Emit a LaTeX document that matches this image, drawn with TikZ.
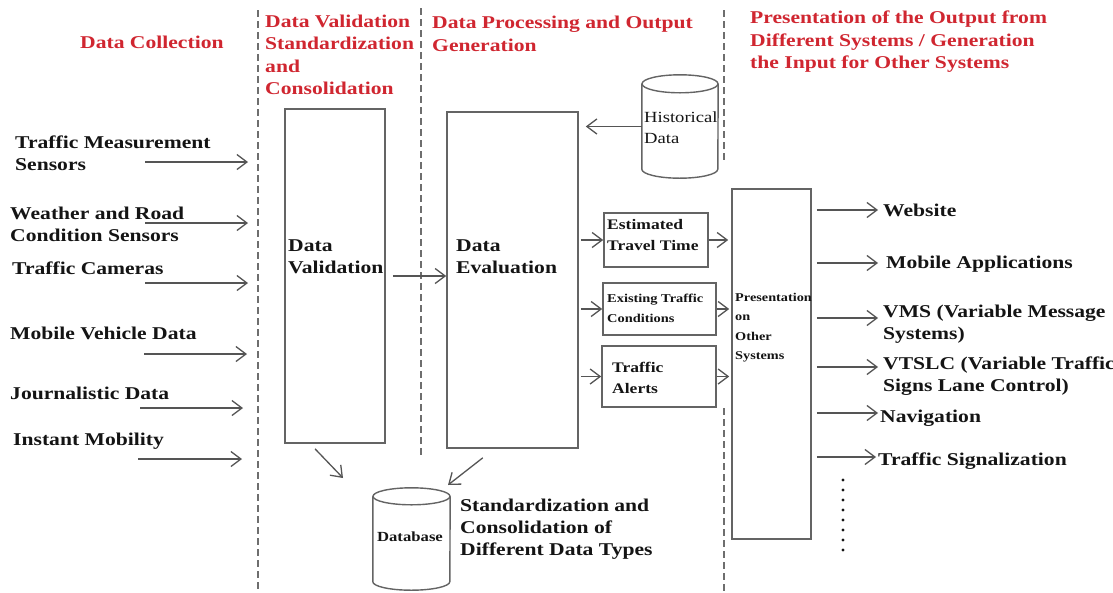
\documentclass[tikz,border=0pt]{standalone}
\usepackage{fontspec}
\setmainfont{Liberation Serif}[FakeStretch=1.2]
\usetikzlibrary{arrows.meta}
\definecolor{hred}{RGB}{208,38,48}
\definecolor{txt}{RGB}{20,20,20}
\definecolor{boxc}{RGB}{100,100,100}
\definecolor{arrc}{RGB}{85,85,85}
\definecolor{dashc}{RGB}{110,110,110}
\begin{document}
\begin{tikzpicture}[x=1pt,y=-1pt,
  lbl/.style={font=\fontsize{18}{22}\selectfont\bfseries, text=txt, align=left, inner sep=0pt, anchor=west},
  hdr/.style={lbl, text=hred, font=\fontsize{18}{22.5}\selectfont\bfseries},
  boxn/.style={draw=boxc, line width=1.6pt, inner sep=0pt, fill=white},
  cyl/.style={draw=boxc, line width=1.4pt},
  arr/.style={draw=arrc, line width=1.3pt, -{Straight Barb[length=10pt,width=15pt]}},
  dline/.style={draw=dashc, line width=1.8pt, dash pattern=on 7pt off 4pt},
]
\useasboundingbox[fill=white] (0,0) rectangle (1113,592);

% dashed separators
\coordinate (a1) at (258,10); \coordinate (a2) at (258,592);
\coordinate (b1) at (421,8);  \coordinate (b2) at (421,456);
\coordinate (c1) at (724,10); \coordinate (c2) at (724,160);
\coordinate (c3) at (724,408); \coordinate (c4) at (724,592);
\draw[dline] (a1) -- (a2);
\draw[dline] (b1) -- (b2);
\draw[dline] (c1) -- (c2);
\draw[dline] (c3) -- (c4);

% headers
\node[hdr] (h1) at (80,42) {Data Collection};
\node[hdr] (h2) at (265,55) {Data Validation\\Standardization\\and\\Consolidation};
\node[hdr] (h3) at (432,34) {Data Processing and Output\\Generation};
\node[hdr] (h4) at (750,42) {Presentation of the Output from\\Different Systems / Generation\\the Input for Other Systems};

% input labels
\node[lbl] (i1) at (15,153) {Traffic Measurement\\Sensors};
\node[lbl] (i2) at (10,224) {Weather and Road\\Condition Sensors};
\node[lbl] (i3) at (12,268) {Traffic Cameras};
\node[lbl] (i4) at (10,333) {Mobile Vehicle Data};
\node[lbl] (i5) at (10,393) {Journalistic Data};
\node[lbl] (i6) at (13,441) {Instant Mobility};

% input arrows
\coordinate (s1) at (145,162); \coordinate (e1) at (248,162);
\coordinate (s2) at (145,223); \coordinate (e2) at (248,223);
\coordinate (s3) at (145,283); \coordinate (e3) at (248,283);
\coordinate (s4) at (144,354); \coordinate (e4) at (247,354);
\coordinate (s5) at (140,408); \coordinate (e5) at (243,408);
\coordinate (s6) at (138,459); \coordinate (e6) at (242,459);
\foreach \i in {1,...,6} \draw[arr] (s\i) -- (e\i);

% main boxes
\node[boxn, minimum width=100pt, minimum height=334pt] (val) at (335,276) {};
\node[lbl] (valt) at (288,257) {Data\\Validation};
\node[boxn, minimum width=131pt, minimum height=336pt] (eval) at (512.5,280) {};
\node[lbl] (evalt) at (456,257) {Data\\Evaluation};
\draw[arr, shorten <=7pt] (val.east) -- (eval.west |- val.east);

% historical data cylinder
\node[minimum width=76pt, minimum height=103pt, inner sep=0pt] (hist) at (680,126.5) {};
\draw[cyl, fill=white] ([yshift=-9pt]hist.north west) -- ([yshift=9pt]hist.south west)
  arc[start angle=180, end angle=0, x radius=38, y radius=9] -- ([yshift=-9pt]hist.north east);
\draw[cyl] ([yshift=-9pt]hist.north) ellipse[x radius=38, y radius=9];
\node[font=\fontsize{15.5}{21}\selectfont, text=txt, align=left, anchor=west, inner sep=0pt] (histt) at (644,127.5) {Historical\\Data};
\draw[arr, shorten >=7pt] (hist.west) -- (eval.east |- hist.west);

% output boxes
\node[boxn, minimum width=104pt, minimum height=54pt] (ett) at (656,240) {};
\node[lbl, font=\fontsize{14.6}{21}\selectfont\bfseries] (ettt) at (607,235.5) {Estimated\\Travel Time};
\node[boxn, minimum width=113pt, minimum height=52pt] (etc) at (659.5,309) {};
\node[lbl, font=\fontsize{12}{20}\selectfont\bfseries] (etct) at (607,308) {Existing Traffic\\Conditions};
\node[boxn, minimum width=114pt, minimum height=61pt] (ta) at (659,376.5) {};
\node[lbl, font=\fontsize{14.6}{21}\selectfont\bfseries] (tat) at (612,377.5) {Traffic\\Alerts};
\draw[arr, shorten <=2pt] (eval.east |- ett.west) -- (ett.west);
\draw[arr, shorten <=2pt] (eval.east |- etc.west) -- (etc.west);
\draw[arr, shorten <=2pt] (eval.east |- ta.west) -- (ta.west);

% presentation box
\node[boxn, minimum width=79pt, minimum height=350pt] (pres) at (771.5,364) {};
\node[lbl, font=\fontsize{11.9}{19.3}\selectfont\bfseries] (prest) at (735,327.5) {Presentation\\on\\Other\\Systems};
\draw[arr, shorten >=3pt] (ett.east) -- (pres.west |- ett.east);
\draw[arr, shorten >=2pt] (etc.east) -- (pres.west |- etc.east);
\draw[arr, shorten >=2pt] (ta.east) -- (pres.west |- ta.east);

% output labels and arrows
\node[lbl] (o1) at (883,210) {Website};
\node[lbl] (o2) at (886,264) {Mobile Applications};
\node[lbl] (o3) at (883,324) {VMS (Variable Message\\Systems)};
\node[lbl] (o4) at (883,376) {VTSLC (Variable Traffic\\Signs Lane Control)};
\node[lbl] (o5) at (880,418) {Navigation};
\node[lbl] (o6) at (878,461) {Traffic Signalization};
\coordinate (t1) at (878,210);
\coordinate (t2) at (878,263);
\coordinate (t3) at (878,318);
\coordinate (t4) at (878,367);
\coordinate (t5) at (878,413);
\coordinate (t6) at (876,457);
\foreach \i in {1,...,6} \draw[arr, shorten <=5pt] (pres.east |- t\i) -- (t\i);

% continuation dots
\foreach \k in {0,...,7} \fill[txt] (843,480+10*\k) circle[radius=1.7pt];

% database cylinder
\node[minimum width=77pt, minimum height=102pt, inner sep=0pt] (db) at (411.5,539) {};
\draw[cyl, fill=white] ([yshift=-8.5pt]db.north west) -- ([yshift=8.5pt]db.south west)
  arc[start angle=180, end angle=0, x radius=38.5, y radius=8.5] -- ([yshift=-8.5pt]db.north east);
\draw[cyl] ([yshift=-8.5pt]db.north) ellipse[x radius=38.5, y radius=8.5];
\node[font=\fontsize{13.9}{18}\selectfont\bfseries, text=txt, inner sep=0pt] (dbt) at (410,537) {Database};
\node[lbl] (dbl) at (460,529) {Standardization and\\Consolidation of\\Different Data Types};
\coordinate (d1) at (343,478);
\coordinate (d2) at (448,485);
\draw[arr] ([xshift=-20pt,yshift=-5pt]val.south) -- (d1);
\draw[arr] ([xshift=-96pt,yshift=-9pt]eval.south east) -- (d2);
\end{tikzpicture}
\end{document}
